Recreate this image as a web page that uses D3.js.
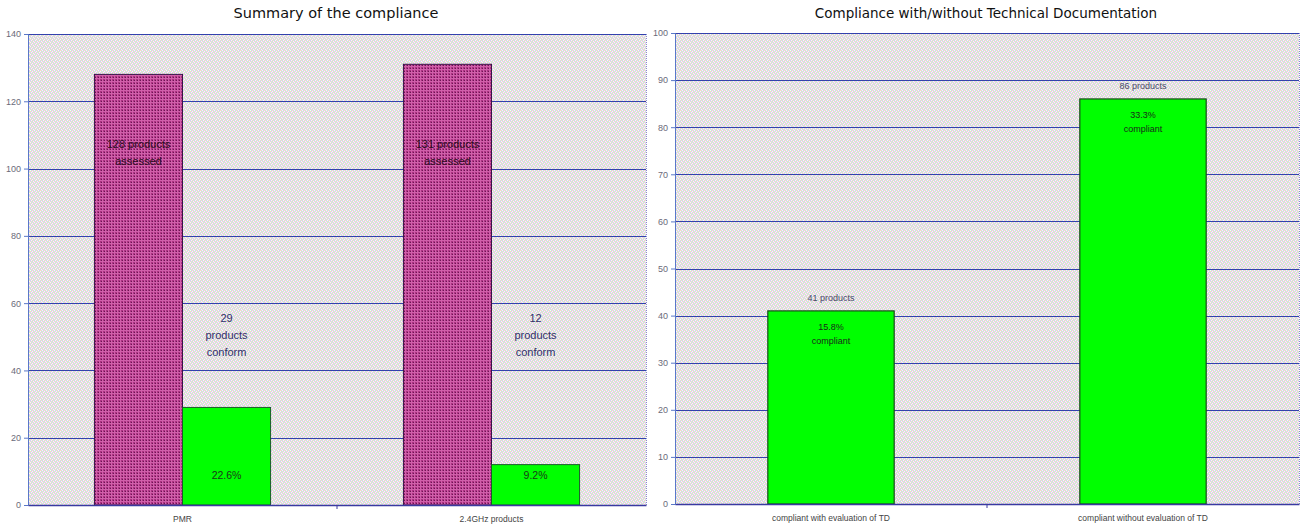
<!DOCTYPE html>
<html>
<head>
<meta charset="utf-8">
<script src="https://cdn.jsdelivr.net/npm/d3@7"></script>
<style>
  html, body { margin: 0; padding: 0; background: #ffffff; }
  svg { display: block; }
</style>
</head>
<body>
<svg id="chart" width="1303" height="530"></svg>
<script>
// ---- Summary of the compliance ----
const summaryCategories = ["PMR", "2.4GHz products"];
const assessedValues = [128, 131];
const conformValues = [29, 12];
const assessedLabels = [["128 products", "assessed"], ["131  products", "assessed"]];
const conformLabels = [["29", "products", "conform"], ["12", "products", "conform"]];
const conformPercentLabels = ["22.6%", "9.2%"];
const summaryTicks = [0, 20, 40, 60, 80, 100, 120, 140];

// ---- Compliance with/without Technical Documentation ----
const tdCategories = ["compliant with evaluation of TD", "compliant without evaluation of TD"];
const tdValues = [41, 86];
const tdCountLabels = ["41 products", "86 products"];
const tdPercentLabels = ["15.8%", "33.3%"];
const tdTicks = [0, 10, 20, 30, 40, 50, 60, 70, 80, 90, 100];

const svg = d3.select("#chart");
const defs = svg.append("defs");

// dithered pastel plot-area fill
const P = "#f0c4ec", Y = "#eeeeb4", B = "#c0dff4", W = "#f8f8f8";
const bgColors = [
  [P, Y, B, W],
  [B, W, P, Y],
  [Y, P, W, B],
  [W, B, Y, P]
];
const bg = defs.append("pattern").attr("id", "dither")
  .attr("width", 4).attr("height", 4).attr("patternUnits", "userSpaceOnUse");
bgColors.forEach((row, r) => row.forEach((c, k) => {
  bg.append("rect").attr("x", k).attr("y", r).attr("width", 1).attr("height", 1).attr("fill", c);
}));

// checked magenta bar fill
const mg = defs.append("pattern").attr("id", "magenta")
  .attr("width", 3).attr("height", 3).attr("patternUnits", "userSpaceOnUse");
mg.append("rect").attr("width", 3).attr("height", 3).attr("fill", "#ac3282");
mg.append("rect").attr("x", 0).attr("y", 0).attr("width", 3).attr("height", 1).attr("fill", "#d060aa");
mg.append("rect").attr("x", 0).attr("y", 0).attr("width", 1).attr("height", 3).attr("fill", "#d060aa");
mg.append("rect").attr("x", 2).attr("y", 2).attr("width", 1).attr("height", 1).attr("fill", "#6a1652");

const labelFont = "'Liberation Sans', Arial, sans-serif";
const titleFont = "'DejaVu Sans', Verdana, sans-serif";

function drawFrame(g, x0, x1, y, ticks, title, titleX, titleSize) {
  g.append("rect").attr("x", x0).attr("y", y.range()[1])
    .attr("width", x1 - x0).attr("height", y.range()[0] - y.range()[1])
    .attr("fill", "url(#dither)");
  // gridlines
  g.append("g").selectAll("line").data(ticks.filter(t => t > 0)).join("line")
    .attr("x1", x0).attr("x2", x1)
    .attr("y1", d => Math.round(y(d)) + 0.5).attr("y2", d => Math.round(y(d)) + 0.5)
    .attr("stroke", "#3442ac").attr("stroke-width", 1.2);
  // right edge of plot area
  g.append("line").attr("x1", x1 + 0.5).attr("x2", x1 + 0.5)
    .attr("y1", y.range()[1]).attr("y2", y.range()[0])
    .attr("stroke", "#8a8ad0").attr("stroke-dasharray", "1,1");
  // y axis
  const ax = g.append("g").attr("transform", `translate(${x0},0)`)
    .call(d3.axisLeft(y).tickValues(ticks).tickSize(4).tickPadding(3));
  ax.select(".domain").attr("stroke", "#5a78c8");
  ax.selectAll(".tick line").attr("stroke", "#5a78c8");
  ax.selectAll(".tick text").attr("fill", "#6a6a7a")
    .style("font-family", labelFont).style("font-size", "9px");
  // title
  g.append("text").attr("x", titleX).attr("y", 18).attr("text-anchor", "middle")
    .style("font-family", titleFont).style("font-size", titleSize + "px").attr("fill", "#111")
    .text(title);
}

function drawXAxis(g, x, y0) {
  const ax = g.append("g").attr("transform", `translate(0,${y0})`)
    .call(d3.axisBottom(x).tickSize(0).tickPadding(11));
  ax.select(".domain").attr("stroke", "#3a3aa0").attr("stroke-width", 1.5);
  ax.selectAll(".tick text").attr("fill", "#444")
    .style("font-family", labelFont).style("font-size", "8.5px");
  // tick marks between categories
  const bounds = x.domain().slice(1).map(d => x(d));
  g.append("g").selectAll("line").data(bounds).join("line")
    .attr("x1", d => d).attr("x2", d => d).attr("y1", y0).attr("y2", y0 + 4)
    .attr("stroke", "#3a3aa0");
}

function multiline(g, lines, cx, cy, size, lineH, fill) {
  const t = g.append("text").attr("x", cx).attr("y", cy).attr("text-anchor", "middle")
    .style("font-family", labelFont).style("font-size", size + "px").attr("fill", fill);
  lines.forEach((s, i) => t.append("tspan").attr("x", cx).attr("dy", i === 0 ? 0 : lineH).text(s));
}

// ---------- left chart ----------
{
  const g = svg.append("g");
  const x0 = 28, x1 = 646;
  const y = d3.scaleLinear().domain([0, 140]).range([505, 34]);
  const x = d3.scaleBand().domain(summaryCategories).range([x0, x1]);
  drawFrame(g, x0, x1, y, summaryTicks, "Summary of the compliance", 336, 14.5);

  const barW = x.bandwidth() * 0.285;
  const cx = d => x(d) + x.bandwidth() / 2;

  g.append("g").selectAll("rect").data(summaryCategories).join("rect")
    .attr("x", d => cx(d) - barW).attr("width", barW)
    .attr("y", (d, i) => y(assessedValues[i])).attr("height", (d, i) => y(0) - y(assessedValues[i]))
    .attr("fill", "url(#magenta)").attr("stroke", "#3a1448").attr("stroke-width", 1);

  g.append("g").selectAll("rect").data(summaryCategories).join("rect")
    .attr("x", d => cx(d)).attr("width", barW)
    .attr("y", (d, i) => y(conformValues[i])).attr("height", (d, i) => y(0) - y(conformValues[i]))
    .attr("fill", "#00ff00").attr("stroke", "#1a5a2a").attr("stroke-width", 1);

  summaryCategories.forEach((d, i) => {
    multiline(g, assessedLabels[i], cx(d) - barW / 2, y(106), 11, 17, "#2a0c20");
    multiline(g, conformLabels[i], cx(d) + barW / 2, y(54.4), 11, 17, "#30306a");
    multiline(g, [conformPercentLabels[i]], cx(d) + barW / 2, y(7.6), 10.5, 0, "#1a3a1a");
  });

  drawXAxis(g, x, y(0));
}

// ---------- right chart ----------
{
  const g = svg.append("g");
  const x0 = 675, x1 = 1299;
  const y = d3.scaleLinear().domain([0, 100]).range([504, 33]);
  const x = d3.scaleBand().domain(tdCategories).range([x0, x1]);
  drawFrame(g, x0, x1, y, tdTicks, "Compliance with/without Technical Documentation", 986, 13.5);

  const barW = x.bandwidth() * 0.405;
  const cx = d => x(d) + x.bandwidth() / 2;

  g.append("g").selectAll("rect").data(tdCategories).join("rect")
    .attr("x", d => cx(d) - barW / 2).attr("width", barW)
    .attr("y", (d, i) => y(tdValues[i])).attr("height", (d, i) => y(0) - y(tdValues[i]))
    .attr("fill", "#00ff00").attr("stroke", "#1a4a1a").attr("stroke-width", 1.2);

  tdCategories.forEach((d, i) => {
    multiline(g, [tdCountLabels[i]], cx(d), y(tdValues[i]) - 10, 9, 0, "#4a4a6a");
    multiline(g, [tdPercentLabels[i], "compliant"], cx(d), y(tdValues[i]) + 19, 9, 14, "#1a2a1a");
  });

  drawXAxis(g, x, y(0));
}
</script>
</body>
</html>
